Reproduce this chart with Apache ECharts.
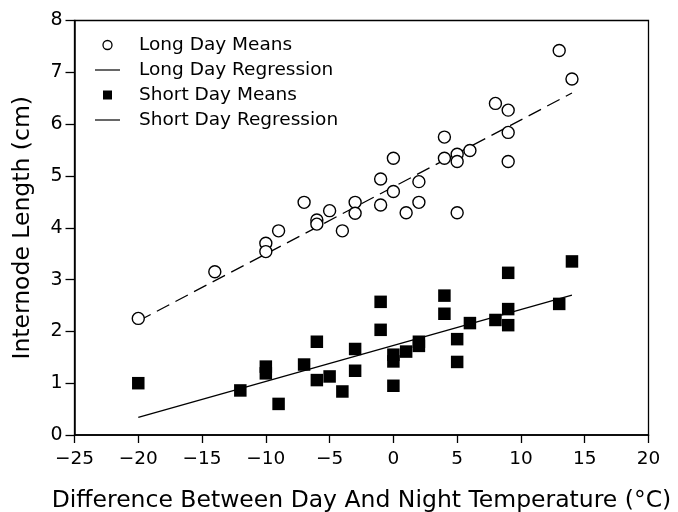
<!DOCTYPE html>
<html>
<head>
<meta charset="utf-8">
<script src="https://cdn.jsdelivr.net/npm/echarts@6/dist/echarts.min.js"></script>
<style>html,body{margin:0;padding:0;background:#fff;}#c{width:678px;height:512px;}</style>
</head>
<body>
<div id="c"></div>
<script>
const xTicks = [-25, -20, -15, -10, -5, 0, 5, 10, 15, 20];
const yTicks = [0, 1, 2, 3, 4, 5, 6, 7, 8];
const longDayMeans = [
  [-20, 2.25], [-14, 3.15], [-10, 3.70], [-10, 3.54], [-9, 3.94], [-7, 4.49],
  [-6, 4.15], [-6, 4.07], [-5, 4.33], [-4, 3.94], [-3, 4.49], [-3, 4.28],
  [-1, 4.94], [-1, 4.44], [0, 5.34], [0, 4.70], [1, 4.29], [2, 4.89], [2, 4.49],
  [4, 5.75], [4, 5.34], [5, 5.42], [5, 5.28], [5, 4.29], [6, 5.49], [8, 6.40],
  [9, 6.27], [9, 5.84], [9, 5.28], [13, 7.42], [14, 6.87]
];
const shortDayMeans = [
  [-20, 1.00], [-12, 0.86], [-10, 1.32], [-10, 1.19], [-9, 0.60], [-7, 1.36],
  [-6, 1.80], [-6, 1.06], [-5, 1.13], [-4, 0.84], [-3, 1.66], [-3, 1.24],
  [-1, 2.57], [-1, 2.03], [0, 1.55], [0, 1.42], [0, 0.95], [1, 1.61], [2, 1.80],
  [2, 1.72], [4, 2.69], [4, 2.34], [5, 1.85], [5, 1.41], [6, 2.16], [8, 2.22],
  [9, 3.13], [9, 2.43], [9, 2.12], [13, 2.53], [14, 3.35]
];
const longDayRegression = [[-20, 2.20], [14, 6.60]];
const shortDayRegression = [[-20, 0.34], [14, 2.70]];
const seriesNames = ['Long Day Means', 'Long Day Regression', 'Short Day Means', 'Short Day Regression'];

const FONT = 'DejaVu Sans';
const chart = echarts.init(document.getElementById('c'), null, {renderer: 'canvas'});
const fmt = v => String(v).replace('-', '\u2212');
const lineIcon = 'path://M0,0H25V1.2H0Z';
chart.setOption({
  animation: false,
  backgroundColor: '#fff',
  grid: {left: 74.5, right: 29.5, top: 20.5, bottom: 77, containLabel: false, outerBoundsMode: 'none',
         show: true, borderColor: '#000', borderWidth: 1.3, backgroundColor: 'transparent'},
  legend: {
    orient: 'vertical', left: 95, top: 35.5, padding: 0,
    itemWidth: 25, itemHeight: 9, itemGap: 6,
    textStyle: {fontFamily: FONT, fontSize: 18.5, color: '#000', padding: [0, 0, 0, 14]},
    data: [
      {name: seriesNames[0], icon: 'circle', itemStyle: {color: '#fff', borderColor: '#000', borderWidth: 1.3, opacity: 1}},
      {name: seriesNames[1], icon: lineIcon, itemStyle: {color: '#000', borderWidth: 0, opacity: 1}},
      {name: seriesNames[2], icon: 'path://M0,0H10V10H0Z', itemStyle: {color: '#000', opacity: 1}},
      {name: seriesNames[3], icon: lineIcon, itemStyle: {color: '#000', borderWidth: 0, opacity: 1}}
    ]
  },
  xAxis: {
    type: 'value', min: xTicks[0], max: xTicks[xTicks.length - 1], interval: 5,
    name: 'Difference Between Day And Night Temperature (\u00B0C)',
    nameLocation: 'middle', nameGap: 54,
    nameTextStyle: {fontFamily: FONT, fontSize: 23.5, color: '#000'},
    axisLine: {onZero: false, lineStyle: {color: '#000', width: 1.5}},
    axisTick: {show: true, inside: false, length: 8, lineStyle: {color: '#000', width: 1.3}},
    axisLabel: {fontFamily: FONT, fontSize: 18.5, color: '#000', margin: 15, formatter: fmt},
    splitLine: {show: false}
  },
  yAxis: {
    type: 'value', min: yTicks[0], max: yTicks[yTicks.length - 1], interval: 1,
    name: 'Internode Length (cm)',
    nameLocation: 'middle', nameGap: 40,
    nameTextStyle: {fontFamily: FONT, fontSize: 23.5, color: '#000'},
    axisLine: {onZero: false, lineStyle: {color: '#000', width: 1.5}},
    axisTick: {show: true, inside: false, length: 9, lineStyle: {color: '#000', width: 1.3}},
    axisLabel: {fontFamily: FONT, fontSize: 19, color: '#000', margin: 12},
    splitLine: {show: false}
  },
  series: [
    {name: seriesNames[0], type: 'scatter', data: longDayMeans, symbol: 'circle', symbolSize: 12,
     itemStyle: {color: '#fff', borderColor: '#000', borderWidth: 1.4, opacity: 1}, z: 3},
    {name: seriesNames[1], type: 'line', data: longDayRegression, symbol: 'none',
     lineStyle: {color: '#000', width: 1.3, type: [14, 7]}, itemStyle: {color: '#000'}, z: 2},
    {name: seriesNames[2], type: 'scatter', data: shortDayMeans, symbol: 'rect', symbolSize: 12.5,
     itemStyle: {color: '#000', opacity: 1}, z: 3},
    {name: seriesNames[3], type: 'line', data: shortDayRegression, symbol: 'none',
     lineStyle: {color: '#000', width: 1.3}, itemStyle: {color: '#000'}, z: 2}
  ]
});
</script>
</body>
</html>
